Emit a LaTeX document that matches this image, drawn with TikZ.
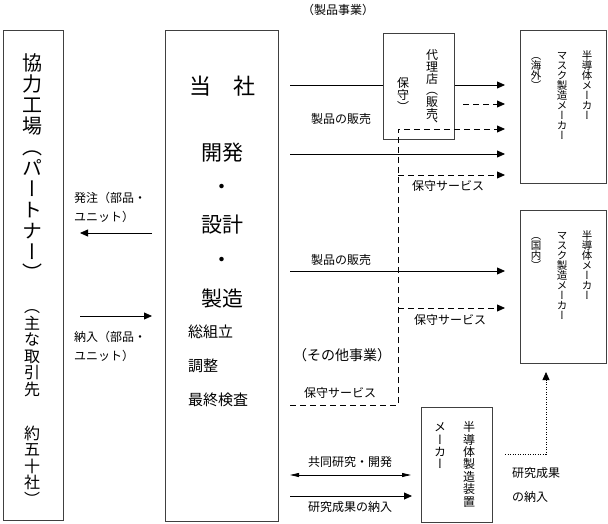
\documentclass[tikz,border=0pt]{standalone}
\usepackage{fontspec}
\usepackage{graphicx}
\usetikzlibrary{arrows.meta}
\setmainfont{Noto Sans CJK JP}
\newfontfamily\vjp[RawFeature=+vert]{Noto Sans CJK JP}
\newcommand\jsz[1]{\fontsize{#1}{#1}\selectfont}
\newcommand\vcell[1]{\hbox to 1em{\vrule height .88em depth .12em width 0pt\hss#1\hss}}
\ExplSyntaxOn
\NewDocumentCommand\vstkmap{m}{\tl_map_inline:nn{#1}{\vcell{##1}}}
\ExplSyntaxOff
\newcommand\vstk[2]{\vbox{\baselineskip=#1\lineskiplimit=-\maxdimen\lineskip=0pt\vstkmap{#2}}}
\tikzset{
  box/.style={draw=black!75, line width=0.9pt, inner sep=0pt, anchor=north west},
  lbl/.style={inner sep=0pt, font=\jsz{12}},
  vt/.style={inner sep=0pt, anchor=north},
  ln/.style={line width=0.8pt},
  arr/.style={ln, -{Triangle[length=8pt,width=7pt]}},
  dsh/.style={dash pattern=on 6pt off 4pt},
  dotln/.style={line width=0.8pt, dash pattern=on 1pt off 1.5pt},
}
\begin{document}
\begin{tikzpicture}[x=1pt,y=-1pt]
\useasboundingbox (0,0) rectangle (608,524);
% boxes
\node[box, minimum width=60pt, minimum height=490pt] (partner) at (3,30) {};
\node[box, minimum width=113pt, minimum height=491pt] (company) at (165,30) {};
\node[box, minimum width=71pt, minimum height=106pt] (agency) at (383,33) {};
\node[box, minimum width=86pt, minimum height=153pt] (overseas) at (520,30) {};
\node[box, minimum width=86pt, minimum height=153pt] (domestic) at (520,210) {};
\node[box, minimum width=71pt, minimum height=115pt] (equip) at (421,407) {};
% partner text
\node[vt, font=\vjp\jsz{20}] (p1) at (32,53) {\vstk{21pt}{協力工場（パートナー）}};
\node[vt, font=\vjp\jsz{16}] (p2) at (32,298.5) {\vstk{16.5pt}{（主な取引先}};
\node[vt, font=\vjp\jsz{16}] (p3) at (32,425) {\vstk{16.5pt}{約五十社）}};
% company text
\node[inner sep=0pt, font=\jsz{22}] (c1) at (222,86) {当　社};
\node[inner sep=0pt, font=\jsz{21}] (c2) at (222,153) {開発};
\node[inner sep=0pt, font=\jsz{21}] (c3) at (222,189) {・};
\node[inner sep=0pt, font=\jsz{21}] (c4) at (222,225) {設計};
\node[inner sep=0pt, font=\jsz{21}] (c5) at (222,262) {・};
\node[inner sep=0pt, font=\jsz{21}] (c6) at (222,299) {製造};
\node[inner sep=0pt, font=\jsz{15}, anchor=west] (c7) at (188,332) {総組立};
\node[inner sep=0pt, font=\jsz{15}, anchor=west] (c8) at (188,366) {調整};
\node[inner sep=0pt, font=\jsz{15}, anchor=west] (c9) at (188,400) {最終検査};
% agency text
\node[vt, font=\vjp\jsz{12}] (ag1) at (432,49) {\vstk{11.7pt}{代理店（販売、}};
\node[vt, font=\vjp\jsz{12}] (ag2) at (403,77) {\vstk{11.7pt}{保守）}};
% overseas text
\node[vt, font=\vjp\jsz{10.5}] (ov1) at (587,50) {\vstk{10pt}{半導体メーカー}};
\node[vt, font=\vjp\jsz{10.5}] (ov2) at (562,50) {\vstk{10pt}{マスク製造メーカー}};
\node[vt, font=\vjp\jsz{10.5}] (ov3) at (536,50) {\vstk{10pt}{（海外）}};
% domestic text
\node[vt, font=\vjp\jsz{10.5}] (do1) at (587,230) {\vstk{10pt}{半導体メーカー}};
\node[vt, font=\vjp\jsz{10.5}] (do2) at (562,230) {\vstk{10pt}{マスク製造メーカー}};
\node[vt, font=\vjp\jsz{10.5}] (do3) at (536,230) {\vstk{10pt}{（国内）}};
% equipment maker text
\node[vt, font=\vjp\jsz{12}] (eq1) at (469,421) {\vstk{12.4pt}{半導体製造装置}};
\node[vt, font=\vjp\jsz{12}] (eq2) at (440,421) {\vstk{12.4pt}{メーカー}};
% labels
\node[lbl] (t0) at (338,10) {（製品事業）};
\node[lbl] (t1) at (341,119) {製品の販売};
\node[lbl] (t2) at (448,186) {保守サービス};
\node[lbl] (t3) at (341,260) {製品の販売};
\node[lbl] (t4) at (450,320) {保守サービス};
\node[lbl, font=\jsz{14}] (t5) at (342,355) {（その他事業）};
\node[lbl] (t6) at (340,393) {保守サービス};
\node[lbl] (t7) at (350,462) {共同研究・開発};
\node[lbl] (t8) at (350,507) {研究成果の納入};
\node[lbl, anchor=west] (t9) at (512,473) {研究成果};
\node[lbl, anchor=west] (t10) at (512,497) {の納入};
\node[lbl, anchor=west] (o1) at (74,198) {発注（部品・};
\node[lbl, anchor=west] (o2) at (74,217) {ユニット）};
\node[lbl, anchor=west] (n1) at (74,337) {納入（部品・};
\node[lbl, anchor=west] (n2) at (74,356) {ユニット）};
% coordinates
\coordinate (a1) at (290,85);  \coordinate (b1) at (505,85);
\coordinate (a2) at (463,104); \coordinate (b2) at (505,104);
\coordinate (d0) at (290,405); \coordinate (d1) at (398,405);
\coordinate (d2) at (398,129); \coordinate (b3) at (505,129);
\coordinate (a4) at (290,154); \coordinate (b4) at (505,154);
\coordinate (a5) at (398,175); \coordinate (b5) at (505,175);
\coordinate (a6) at (290,271); \coordinate (b6) at (505,271);
\coordinate (a7) at (398,308); \coordinate (b7) at (505,308);
\coordinate (l1) at (152,233); \coordinate (l2) at (80,233);
\coordinate (l3) at (80,316);  \coordinate (l4) at (152,316);
\coordinate (r1) at (290,475); \coordinate (r2) at (411,475);
\coordinate (r3) at (290,496); \coordinate (r4) at (412,496);
\coordinate (q1) at (505,454); \coordinate (q2) at (546,454);
\coordinate (q3) at (546,372);
% connectors
\draw[ln] (a1) -- (a1 -| agency.west);
\draw[arr] (a1 -| agency.east) -- (b1);
\draw[arr, dsh] (a2) -- (b2);
\draw[arr, dsh] (d0) -- (d1) -- (d2) -- (b3);
\draw[arr] (a4) -- (b4);
\draw[arr, dsh] (a5) -- (b5);
\draw[arr] (a6) -- (b6);
\draw[arr, dsh] (a7) -- (b7);
\draw[arr] (l1) -- (l2);
\draw[arr] (l3) -- (l4);
\draw[ln, {Triangle[length=9pt,width=4pt]}-{Triangle[length=9pt,width=4pt]}] (r1) -- (r2);
\draw[arr] (r3) -- (r4);
\draw[dotln, -{Triangle[length=8pt,width=7pt]}] (q1) -- (q2) -- (q3);
\end{tikzpicture}
\end{document}
